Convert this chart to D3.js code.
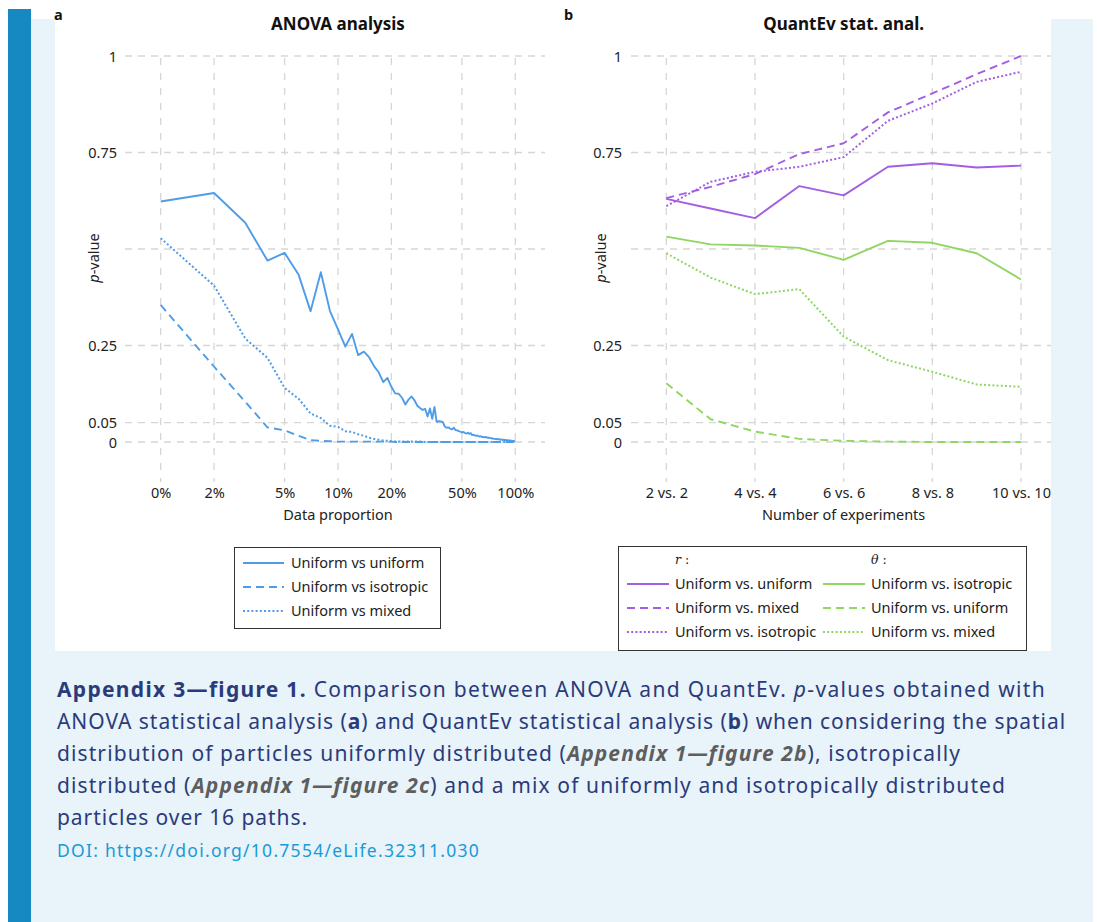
<!DOCTYPE html>
<html><head><meta charset="utf-8">
<script src="https://cdn.jsdelivr.net/npm/d3@7"></script>
<style>
html,body{margin:0;padding:0;background:#fff;}
svg{display:block;}
</style></head>
<body>
<svg id="fig" width="1097" height="922"></svg>
<script>
// ---------- DATA ----------
// Panel a: data proportion (%) – the first position is labelled "0%"
const proportion = [1,2,3,4,5,6,7,8,9,10,11,12,13,14,15,16,17,18,19,20,21,22,23,24,25,26,27,28,29,30,31,32,33,34,35,36,37,38,39,40,41,42,43,44,45,46,47,48,49,50,51,52,53,54,55,56,57,58,59,60,61,62,63,64,65,66,67,68,69,70,71,72,73,74,75,76,77,78,79,80,81,82,83,84,85,86,87,88,89,90,91,92,93,94,95,96,97,98,99,100];
const anovaUniform = [0.623,0.645,0.568,0.470,0.490,0.433,0.339,0.440,0.340,0.292,0.247,0.280,0.225,0.234,0.219,0.196,0.180,0.155,0.166,0.143,0.126,0.125,0.114,0.097,0.110,0.118,0.108,0.094,0.088,0.083,0.086,0.066,0.087,0.060,0.091,0.052,0.054,0.053,0.052,0.040,0.037,0.038,0.034,0.033,0.037,0.031,0.030,0.028,0.027,0.025,0.026,0.023,0.022,0.024,0.021,0.023,0.018,0.019,0.017,0.016,0.017,0.015,0.014,0.015,0.013,0.013,0.012,0.013,0.012,0.011,0.011,0.010,0.010,0.009,0.009,0.008,0.008,0.007,0.008,0.007,0.007,0.006,0.007,0.006,0.005,0.006,0.005,0.005,0.004,0.005,0.004,0.004,0.003,0.004,0.003,0.003,0.002,0.003,0.002,0.002];
const anovaIsotropic = [0.355,0.195,0.104,0.038,0.030,0.016,0.005,0.003,0.002,0.001,0.001,0.001,0.001,0.001,0.001,0.001,0.001,0.001,0.001,0.001,0,0,0,0,0,0,0,0,0,0,0,0,0,0,0,0,0,0,0,0,0,0,0,0,0,0,0,0,0,0,0,0,0,0,0,0,0,0,0,0,0,0,0,0,0,0,0,0,0,0,0,0,0,0,0,0,0,0,0,0,0,0,0,0,0,0,0,0,0,0,0,0,0,0,0,0,0,0,0,0];
const anovaMixed = [0.528,0.405,0.268,0.218,0.140,0.112,0.074,0.062,0.042,0.039,0.028,0.026,0.020,0.016,0.011,0.008,0.006,0.004,0.003,0.002,0.001,0.001,0.001,0.001,0.001,0.001,0.001,0.001,0.001,0.001,0,0,0,0,0,0,0,0,0,0,0,0,0,0,0,0,0,0,0,0,0,0,0,0,0,0,0,0,0,0,0,0,0,0,0,0,0,0,0,0,0,0,0,0,0,0,0,0,0,0,0,0,0,0,0,0,0,0,0,0,0,0,0,0,0,0,0,0,0,0];
const anovaTickValues = [1,2,5,10,20,50,100];
const anovaTickLabels = ["0%","2%","5%","10%","20%","50%","100%"];

// Panel b: number of experiments
const experiments = [2,3,4,5,6,7,8,9,10];
const rUniUni = [0.630,0.605,0.580,0.663,0.639,0.713,0.722,0.711,0.716];
const rUniMixed = [0.632,0.661,0.694,0.746,0.774,0.854,0.903,0.953,1.000];
const rUniIso = [0.611,0.674,0.700,0.713,0.738,0.832,0.877,0.933,0.959];
const tUniIso = [0.532,0.512,0.509,0.503,0.472,0.521,0.516,0.489,0.421];
const tUniUni = [0.152,0.059,0.027,0.008,0.003,0.001,0,0,0];
const tUniMixed = [0.489,0.426,0.383,0.396,0.273,0.212,0.182,0.149,0.143];
const expTickValues = [2,4,6,8,10];
const expTickLabels = ["2 vs. 2","4 vs. 4","6 vs. 6","8 vs. 8","10 vs. 10"];

const yTickValues = [0,0.05,0.25,0.5,0.75,1];
const yTickLabels = ["0","0.05","0.25","","0.75","1"];

// ---------- STYLE ----------
const BLUE = "#4f9de8", PURPLE = "#a25fe3", GREEN = "#8fd662";
const GRID = "#d6d6d6";
const FONT = "'Noto Sans', 'Open Sans', sans-serif";
const FS = 14.5;
const DASH = "8,5", DOT = "2,2.2";

const svg = d3.select("#fig");
// page frame
svg.append("rect").attr("x",31).attr("y",19).attr("width",1062).attr("height",903).attr("fill","#e8f3fa");
svg.append("rect").attr("x",8).attr("y",9).attr("width",23).attr("height",913).attr("fill","#1689c3");
svg.append("rect").attr("x",55).attr("y",0).attr("width",996).attr("height",651).attr("fill","#ffffff");

const y = d3.scaleLinear().domain([0,1]).range([442,56]);

function drawPanel(opt){
  const g = svg.append("g");
  yTickValues.forEach(v=>{
    g.append("line").attr("x1",opt.gx0).attr("x2",opt.gx1).attr("y1",y(v)).attr("y2",y(v))
     .attr("stroke",GRID).attr("stroke-width",1.3).attr("stroke-dasharray","7,6");
  });
  opt.ticks.forEach(v=>{
    g.append("line").attr("x1",opt.x(v)).attr("x2",opt.x(v)).attr("y1",58).attr("y2",482)
     .attr("stroke",GRID).attr("stroke-width",1.3).attr("stroke-dasharray","7,8");
  });
  const ya = d3.axisLeft(y).tickValues(yTickValues).tickFormat((d,i)=>yTickLabels[i]).tickSize(0).tickPadding(0);
  const yg = g.append("g").attr("transform",`translate(${opt.ylabX},0)`).call(ya);
  yg.select(".domain").remove();
  yg.selectAll("text").attr("font-family",FONT).attr("font-size",FS).attr("fill","#222").attr("dy","0.35em");
  const xa = d3.axisBottom(opt.x).tickValues(opt.ticks).tickFormat((d,i)=>opt.labels[i]).tickSize(0).tickPadding(0);
  const xg = g.append("g").attr("transform","translate(0,488)").call(xa);
  xg.select(".domain").remove();
  xg.selectAll("text").attr("font-family",FONT).attr("font-size",FS).attr("fill","#222").attr("dy","0.71em");
  g.append("text").attr("x",opt.cx).attr("y",520).attr("text-anchor","middle")
   .attr("font-family",FONT).attr("font-size",FS).attr("fill","#222").text(opt.xtitle);
  const yt = g.append("text").attr("transform",`translate(${opt.ptX},258) rotate(-90)`).attr("text-anchor","middle")
   .attr("font-family",FONT).attr("font-size",FS).attr("fill","#222");
  yt.append("tspan").attr("font-style","italic").text("p");
  yt.append("tspan").text("-value");
  g.append("text").attr("x",opt.cx).attr("y",30).attr("text-anchor","middle")
   .attr("font-family",FONT).attr("font-size",17).attr("font-weight","bold").attr("fill","#111").text(opt.title);
  g.append("text").attr("x",opt.letterX).attr("y",20).attr("font-family",FONT).attr("font-size",14.5)
   .attr("font-weight","bold").attr("fill","#111").text(opt.letter);
  opt.series.forEach(s=>{
    const line = d3.line().x((d,i)=>opt.x(opt.xs[i])).y(d=>y(d));
    g.append("path").attr("d",line(s.values)).attr("fill","none").attr("stroke",s.color)
     .attr("stroke-width",s.dash===DOT?2:1.9).attr("stroke-dasharray",s.dash||null).attr("stroke-linejoin","round");
  });
  return g;
}

const xA = d3.scaleLog().domain([1,100]).range([160.7,515.3]);
drawPanel({
  x:xA, xs:proportion, ticks:anovaTickValues, labels:anovaTickLabels, gx0:125, gx1:545,
  ylabX:117, ptX:99, cx:338, xtitle:"Data proportion", title:"ANOVA analysis", letter:"a", letterX:54,
  series:[
    {values:anovaUniform,color:BLUE},
    {values:anovaIsotropic,color:BLUE,dash:DASH},
    {values:anovaMixed,color:BLUE,dash:DOT}
  ]
});

const xB = d3.scaleLinear().domain([2,10]).range([666.3,1021]);
drawPanel({
  x:xB, xs:experiments, ticks:expTickValues, labels:expTickLabels, gx0:631, gx1:1051,
  ylabX:622, ptX:606, cx:843.7, xtitle:"Number of experiments", title:"QuantEv stat. anal.", letter:"b", letterX:564,
  series:[
    {values:rUniUni,color:PURPLE},
    {values:rUniMixed,color:PURPLE,dash:DASH},
    {values:rUniIso,color:PURPLE,dash:DOT},
    {values:tUniIso,color:GREEN},
    {values:tUniUni,color:GREEN,dash:DASH},
    {values:tUniMixed,color:GREEN,dash:DOT}
  ]
});

// ---------- LEGENDS ----------
const legA = [
  {label:"Uniform vs uniform",dash:null},
  {label:"Uniform vs isotropic",dash:DASH},
  {label:"Uniform vs mixed",dash:DOT}
];
svg.append("rect").attr("x",234.5).attr("y",547.5).attr("width",206).attr("height",81)
  .attr("fill","#fff").attr("stroke","#333").attr("stroke-width",1);
legA.forEach((d,i)=>{
  const yy = 563 + i*24;
  svg.append("line").attr("x1",243).attr("x2",284).attr("y1",yy).attr("y2",yy)
    .attr("stroke",BLUE).attr("stroke-width",1.9).attr("stroke-dasharray",d.dash);
  svg.append("text").attr("x",291).attr("y",yy).attr("dy","0.35em").attr("font-family",FONT)
    .attr("font-size",FS).attr("fill","#222").text(d.label);
});

const legB = [
  {col:0,row:0,label:"Uniform vs. uniform",color:PURPLE,dash:null},
  {col:0,row:1,label:"Uniform vs. mixed",color:PURPLE,dash:DASH},
  {col:0,row:2,label:"Uniform vs. isotropic",color:PURPLE,dash:DOT},
  {col:1,row:0,label:"Uniform vs. isotropic",color:GREEN,dash:null},
  {col:1,row:1,label:"Uniform vs. uniform",color:GREEN,dash:DASH},
  {col:1,row:2,label:"Uniform vs. mixed",color:GREEN,dash:DOT}
];
const legBHeaders = ["r","θ"];
svg.append("rect").attr("x",618.5).attr("y",546.5).attr("width",408).attr("height",104)
  .attr("fill","#fff").attr("stroke","#333").attr("stroke-width",1);
const colX = [627,823];
legBHeaders.forEach((h,i)=>{
  const t = svg.append("text").attr("x",colX[i]+48).attr("y",560).attr("dy","0.35em")
    .attr("font-family","'DejaVu Serif', serif").attr("font-size",12.5).attr("fill","#222");
  t.append("tspan").attr("font-style","italic").text(h);
  t.append("tspan").text(" :");
});
legB.forEach(d=>{
  const yy = 584 + d.row*24, x0 = colX[d.col];
  svg.append("line").attr("x1",x0).attr("x2",x0+42).attr("y1",yy).attr("y2",yy)
    .attr("stroke",d.color).attr("stroke-width",1.9).attr("stroke-dasharray",d.dash);
  svg.append("text").attr("x",x0+48).attr("y",yy).attr("dy","0.35em").attr("font-family",FONT)
    .attr("font-size",FS).attr("fill","#222").text(d.label);
});

// ---------- CAPTION ----------
const NAVY = "#2b3b7a";
const captionLines = [
  [{t:"Appendix 3—figure 1.",b:1},{t:" Comparison between ANOVA and QuantEv. "},{t:"p",i:1},{t:"-values obtained with"}],
  [{t:"ANOVA statistical analysis ("},{t:"a",b:1},{t:") and QuantEv statistical analysis ("},{t:"b",b:1},{t:") when considering the spatial"}],
  [{t:"distribution of particles uniformly distributed ("},{t:"Appendix 1—figure 2b",b:1,i:1,g:1},{t:"), isotropically"}],
  [{t:"distributed ("},{t:"Appendix 1—figure 2c",b:1,i:1,g:1},{t:") and a mix of uniformly and isotropically distributed"}],
  [{t:"particles over 16 paths."}]
];
const captionWidths = [989,1009,904,949,251];
function fitSpacing(textSel, target){
  const node = textSel.node();
  const n = node.textContent.length;
  const w = node.getComputedTextLength();
  const ls = Math.max(0,(target - w)/n);
  textSel.attr("letter-spacing", ls.toFixed(3));
}
captionLines.forEach((ln,i)=>{
  const t = svg.append("text").attr("x",57).attr("y",697+i*32).attr("font-family",FONT)
    .attr("font-size",21).attr("fill",NAVY).attr("xml:space","preserve");
  ln.forEach(p=>{
    const s = t.append("tspan").text(p.t);
    if(p.b) s.attr("font-weight","bold");
    if(p.i) s.attr("font-style","italic");
    if(p.g) s.attr("fill","#5e5e5e");
  });
  fitSpacing(t, captionWidths[i]);
});
const doi = svg.append("text").attr("x",57).attr("y",857).attr("font-family",FONT).attr("font-size",17.5)
  .attr("fill","#1a9ad6").text("DOI: https://doi.org/10.7554/eLife.32311.030");
fitSpacing(doi, 423);
</script>
</body></html>
